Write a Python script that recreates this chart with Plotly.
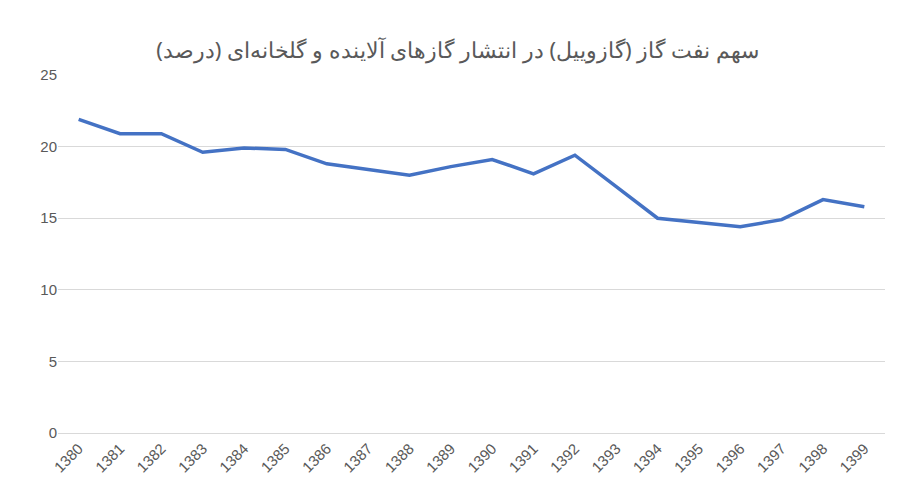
import plotly.graph_objects as go

years = [str(y) for y in range(1380, 1400)]
share = [21.9, 20.9, 20.9, 19.6, 19.9, 19.8, 18.8, 18.4, 18.0, 18.6,
         19.1, 18.1, 19.4, 17.2, 15.0, 14.7, 14.4, 14.9, 16.3, 15.8]
title = 'سهم نفت گاز (گازوییل) در انتشار گازهای آلاینده و گلخانه‌ای (درصد)'

fig = go.Figure(go.Scatter(x=years, y=share, mode='lines',
                           line=dict(color='#4472C4', width=3.5)))
fig.update_layout(
    width=899, height=495, plot_bgcolor='white', paper_bgcolor='white',
    title=dict(text=title, x=0.5, y=0.93, font=dict(family='Noto Sans', size=22, color='#595959')),
    margin=dict(l=50, r=22, t=67, b=70),
    font=dict(family='Liberation Sans', size=15, color='#595959'),
    showlegend=False,
)
fig.update_xaxes(tickangle=-45, showgrid=False, showline=True, linecolor='#D9D9D9',
                 range=[-0.5, 19.5])
fig.update_yaxes(range=[0, 25], dtick=5, gridcolor='#D9D9D9', zeroline=False)
fig.write_html("out.html")
